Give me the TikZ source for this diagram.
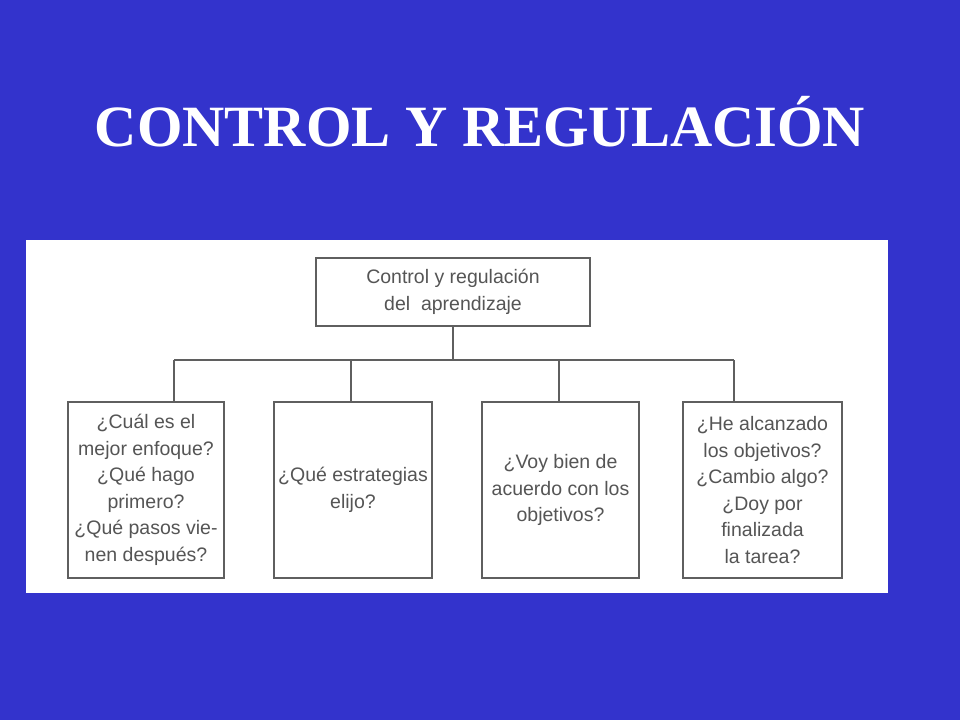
\documentclass[tikz,border=0pt]{standalone}
\usepackage{fontspec}
\setmainfont{Liberation Serif}
\newfontfamily\boxfont{Liberation Sans}
\definecolor{slideblue}{RGB}{51,51,204}
\definecolor{inkgray}{RGB}{85,85,85}
\definecolor{linegray}{RGB}{95,95,95}
\tikzset{slide/.style={x=1pt,y=-1pt},
  qbox/.style={draw=linegray,line width=1.3pt,fill=white,align=center,text=inkgray,
    inner sep=0pt,font=\boxfont\fontsize{19.5}{26.5}\selectfont},
  bus/.style={linegray,line width=1.3pt}}

\begin{document}
\begin{tikzpicture}[slide]
    \fill[slideblue] (0,0) rectangle (960,720);
    \fill[white] (26,240) rectangle (888,593);
    \node[white,font=\bfseries\fontsize{58.5}{60}\selectfont,anchor=base] (title) at (480,146) {CONTROL Y REGULACIÓN};
    % tree
    \node[qbox,minimum width=274pt,minimum height=68pt] (root) at (453,292) {Control y regulación\\del~~aprendizaje};
    \node[qbox,minimum width=156pt,minimum height=176pt] (b1) at (146,490) {¿Cuál es el\\mejor enfoque?\\¿Qué hago\\primero?\\¿Qué pasos vie-\\nen después?};
    \node[qbox,minimum width=158pt,minimum height=176pt] (b2) at (353,490) {¿Qué estrategias\\elijo?};
    \node[qbox,minimum width=157pt,minimum height=176pt] (b3) at (560.5,490) {¿Voy bien de\\acuerdo con los\\objetivos?};
    \node[qbox,minimum width=159pt,minimum height=176pt] (b4) at (762.5,490) {¿He alcanzado\\los objetivos?\\¿Cambio algo?\\¿Doy por\\finalizada\\la tarea?};
    \coordinate (j1) at (174,360);
    \coordinate (j2) at (351,360);
    \coordinate (j3) at (559,360);
    \coordinate (j4) at (734,360);
    \draw[bus] (root.south) -- (root.south |- j1);
    \draw[bus] (j1) -- (j4);
    \foreach \j/\b in {j1/b1,j2/b2,j3/b3,j4/b4} \draw[bus] (\j) -- (\j |- \b.north);
\end{tikzpicture}
\end{document}
